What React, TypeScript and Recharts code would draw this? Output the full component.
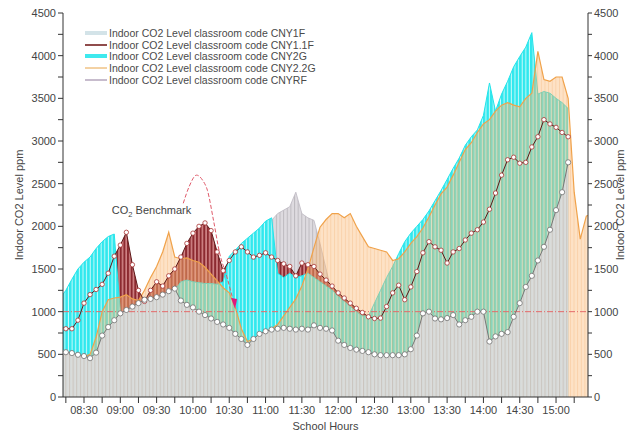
import { ComposedChart, Area, Line, XAxis, YAxis, ReferenceLine, ReferenceDot } from 'recharts'

// sampling times, every 5 minutes
const times = [
  '08:10', '08:15', '08:20', '08:25', '08:30', '08:35', '08:40', '08:45', '08:50', '08:55',
  '09:00', '09:05', '09:10', '09:15', '09:20', '09:25', '09:30', '09:35', '09:40', '09:45',
  '09:50', '09:55', '10:00', '10:05', '10:10', '10:15', '10:20', '10:25', '10:30', '10:35',
  '10:40', '10:45', '10:50', '10:55', '11:00', '11:05', '11:10', '11:15', '11:20', '11:25',
  '11:30', '11:35', '11:40', '11:45', '11:50', '11:55', '12:00', '12:05', '12:10', '12:15',
  '12:20', '12:25', '12:30', '12:35', '12:40', '12:45', '12:50', '12:55', '13:00', '13:05',
  '13:10', '13:15', '13:20', '13:25', '13:30', '13:35', '13:40', '13:45', '13:50', '13:55',
  '14:00', '14:05', '14:10', '14:15', '14:20', '14:25', '14:30', '14:35', '14:40', '14:45',
  '14:50', '14:55', '15:00', '15:05', '15:10', '15:15', '15:20', '15:25', '15:30',
]

const cny1f = [
  530, 525, 515, 495, 480, 455, 520, 720, 820, 900,
  980, 1020, 1060, 1100, 1140, 1150, 1170, 1200, 1240, 1270,
  1130, 1080, 1050, 1000, 960, 920, 880, 850, 810, 740,
  680, 610, 680, 740, 770, 790, 800, 810, 800, 790,
  800, 790, 840, 810, 800, 780, 660, 610, 575, 555,
  540, 525, 500, 490, 490, 490, 490, 500, 560, 720,
  980, 1000, 920, 910, 925, 960, 850, 900, 940, 1000,
  1000, 650, 710, 740, 760, 940, 1100, 1290, 1420, 1600,
  1760, 1960, 2190, 2400, 2750, null, null, null, null,
]

const cny11f = [
  820, 800, 800, 900, 1100, 1200, 1260, 1320, 1450, 1650,
  1780, 1930, 1550, 1250, 1120, 1250, 1350, 1300, 1420, 1500,
  1640, 1800, 1920, 2000, 2040, 1950, 1700, 1480, 1600, 1700,
  1760, 1700, 1640, 1660, 1690, 1640, 1600, 1560, 1530, 1420,
  1570, 1550, 1530, 1440, 1370, 1300, 1220, 1160, 1100, 1040,
  990, 940, 920, 925, 1060, 1220, 1310, 1140, 1290, 1470,
  1690, 1820, 1760, 1720, 1570, 1700, 1740, 1840, 1920, 1960,
  2050, 2200, 2390, 2600, 2780, 2810, 2740, 2750, 2930, 3050,
  3250, 3200, 3160, 3100, 3050, null, null, null, null,
]

const cny2g = [
  1150, 1250, 1380, 1500, 1580, 1640, 1740, 1820, 1880, 1910,
  1000, 1000, 1000, 1050, 1100, 1100, 1150, 1150, 1200, 1250,
  1350, 1370, 1350, 1340, 1330, 1330, 1320, 1350, 1650, 1720,
  1800, 1860, 1920, 1980, 2060, 2100, 1450, 1400, 1450, 1400,
  1420, 1450, 1400, 1350, 1300, 1250, 1180, 1120, 1060, 1000,
  950, 950, 1100, 1250, 1400, 1530, 1680, 1820, 1920, 2000,
  2080, 2180, 2300, 2420, 2550, 2680, 2800, 2950, 3050, 3130,
  3300, 3680, 3350, 3550, 3700, 3870, 3990, 4100, 4270, 3550,
  3580, 3560, 3500, 3450, 3380, null, null, null, null,
]

const cny22g = [
  480, 490, 500, 480, 470, 500, 700, 1000, 1140, 1160,
  1170, 1200, 1150, 1130, 1250, 1400, 1530, 1700, 1930, 1640,
  1620, 1630, 1600, 1580, 1520, 1440, 1360, 1280, 1220, 1050,
  800, 650, 680, 720, 760, 800, 850, 950, 1050, 1150,
  1300, 1500, 1750, 1990, 2080, 2150, 2150, 2100, 2150, 2000,
  1880, 1760, 1740, 1720, 1700, 1600, 1620, 1700, 1800, 1880,
  1980, 2110, 2250, 2380, 2460, 2600, 2750, 2900, 2980, 3100,
  3200, 3250, 3350, 3420, 3450, 3420, 3400, 3500, 3560, 4050,
  3720, 3700, 3750, 3750, 3500, 2400, 1850, 2120, 2150,
]

const cnyrf = [
  450, 450, 440, 430, 420, 420, 450, 600, 700, 800,
  900, 950, 1000, 1050, 1100, 1120, 1150, 1180, 1220, 1250,
  1200, 1150, 1100, 1050, 1000, 950, 900, 850, 800, 750,
  700, 650, 700, 750, 1400, 2070, 2150, 2190, 2230, 2400,
  2150, 2100, 2070, 1800, 1500, 1200, 1000, 800, 650, 550,
  500, 480, 460, 450, 450, 450, 450, 460, 500, 650,
  850, 900, 850, 850, 870, 900, 800, 850, 880, 920,
  920, 600, 650, 700, 720, 880, 1050, 1500, 2000, 2450,
  2600, 2650, 2700, 2700, 2650, null, null, null, null,
]

// CO2 benchmark pointer curve (minutes after 08:00, ppm)
const pointerMinutes = [112, 117, 123, 128, 132, 137, 142, 148, 154]
const pointerPpm = [2270, 2470, 2600, 2540, 2420, 2070, 1690, 1410, 1090]

const benchmark = 1000

const legendLabels = [
  'Indoor CO2 Level classroom code CNY1F',
  'Indoor CO2 Level classroom code CNY1.1F',
  'Indoor CO2 Level classroom code CNY2G',
  'Indoor CO2 Level classroom code CNY2.2G',
  'Indoor CO2 Level classroom code CNYRF',
]

const xTicks = [15, 30, 45, 60, 75, 90, 105, 120, 135, 150, 165, 180, 195, 210, 225, 240, 255, 270, 285, 300, 315, 330, 345, 360, 375, 390, 405, 420, 435]
const yTicks = [0, 250, 500, 750, 1000, 1250, 1500, 1750, 2000, 2250, 2500, 2750, 3000, 3250, 3500, 3750, 4000, 4250, 4500]

const toMinutes = (t: string) => {
  const [h, m] = t.split(':').map(Number)
  return (h - 8) * 60 + m
}

const data = times.map((t, i) => ({
  m: toMinutes(t),
  cny1f: cny1f[i],
  cny11f: cny11f[i],
  cny2g: cny2g[i],
  cny22g: cny22g[i],
  cnyrf: cnyrf[i],
}))

const pointerData = pointerMinutes.map((m, i) => ({ m, ppm: pointerPpm[i] }))

const pad = (n: number) => String(n).padStart(2, '0')
const fmtTime = (m: number) => (m % 30 === 0 ? `${pad(8 + Math.floor(m / 60))}:${pad(m % 60)}` : '')
const fmtPpm = (v: number) => (v % 500 === 0 ? String(v) : '')

const FONT = '"Liberation Sans", Arial, sans-serif'
const STRIPE = 3.63
const X_DOMAIN: [number, number] = [12.65, 446.4]

const legendStyles = [
  { color: '#d3e3e8', width: 4 },
  { color: '#6b1010', width: 1.5 },
  { color: '#3ee9ee', width: 4 },
  { color: '#e8a448', width: 1 },
  { color: '#b4a6bc', width: 1.5 },
]

function ChartLegend() {
  return (
    <div style={{ position: 'absolute', left: 84, top: 27, fontFamily: FONT, fontSize: 10.5, color: '#4a4a4a' }}>
      {legendLabels.map((label, i) => (
        <div key={label} style={{ display: 'flex', alignItems: 'center', height: 11.7, whiteSpace: 'nowrap' }}>
          <svg width={24} height={8} style={{ marginRight: 1 }}>
            <line x1={1} y1={4} x2={23} y2={4} stroke={legendStyles[i].color} strokeWidth={legendStyles[i].width} />
          </svg>
          <span>{label}</span>
        </div>
      ))}
    </div>
  )
}

function BenchmarkLabel(props: any) {
  const { x, y } = props.viewBox
  return (
    <text x={x} y={y} fontFamily={FONT} fontSize={11} fill="#444">
      <tspan>CO</tspan>
      <tspan dy={3} fontSize={7.5}>2</tspan>
      <tspan dy={-3}> Benchmark</tspan>
    </text>
  )
}

const whiteDot = (stroke: string, r: number) => (props: any) => {
  const { cx, cy, index } = props
  if (cx == null || cy == null || props.value == null) return <g key={`d${index}`} />
  return <circle key={`d${index}`} cx={cx} cy={cy} r={r} fill="#fff" stroke={stroke} strokeWidth={0.8} />
}

const ArrowHead = (props: any) => {
  const { cx, cy, index } = props
  if (index !== pointerData.length - 1) return <g key={`a${index}`} />
  return <path key={`a${index}`} d={`M${cx - 3},${cy - 6} L${cx + 3},${cy - 5} L${cx + 1},${cy + 5} Z`} fill="#e0197d" />
}

export default function App() {
  return (
    <div style={{ position: 'absolute', left: 0, top: 0, width: 633, height: 432, background: '#fff' }}>
      <ComposedChart
        width={633}
        height={432}
        data={data}
        margin={{ top: 13, right: 0, bottom: 0, left: 0 }}
        style={{ fontFamily: FONT }}
      >
        <defs>
          <pattern id="rfStripes" width={STRIPE} height={10} patternUnits="userSpaceOnUse">
            <rect width={STRIPE} height={10} fill="#dedbe0" />
            <rect width={1} height={10} fill="#bdbabf" />
          </pattern>
          <pattern id="redStripes" width={STRIPE} height={10} patternUnits="userSpaceOnUse">
            <rect width={STRIPE} height={10} fill="#d08486" />
            <rect width={2} height={10} fill="#8c2a30" />
          </pattern>
          <pattern id="cyanStripes" width={STRIPE} height={10} patternUnits="userSpaceOnUse">
            <rect width={STRIPE} height={10} fill="#c8fafa" />
            <rect width={2.6} height={10} fill="#30e8ee" />
          </pattern>
          <pattern id="orangeStripes" width={STRIPE} height={10} patternUnits="userSpaceOnUse">
            <rect width={STRIPE} height={10} fill="rgba(250,185,120,0.42)" />
            <rect width={1} height={10} fill="rgba(238,150,70,0.22)" />
          </pattern>
          <pattern id="grayStripes" width={STRIPE} height={10} patternUnits="userSpaceOnUse">
            <rect width={STRIPE} height={10} fill="#dcdcdc" />
            <rect width={1} height={10} fill="#ccc4bf" />
          </pattern>
        </defs>

        <XAxis
          dataKey="m"
          type="number"
          domain={X_DOMAIN}
          allowDataOverflow
          ticks={xTicks}
          tickFormatter={fmtTime}
          interval={0}
          height={35}
          tickSize={6}
          tickMargin={3}
          tick={{ fontSize: 11, fill: '#444' }}
          stroke="#333"
          label={{ value: 'School Hours', position: 'insideBottom', offset: 2, fontSize: 11, fill: '#444' }}
        />
        <XAxis
          xAxisId="top"
          orientation="top"
          type="number"
          dataKey="m"
          domain={X_DOMAIN}
          allowDataOverflow
          ticks={xTicks}
          interval={0}
          height={0}
          mirror
          tick={false}
          tickSize={5}
          stroke="#333"
        />
        <YAxis
          domain={[0, 4500]}
          ticks={yTicks}
          interval={0}
          tickFormatter={fmtPpm}
          width={63}
          tickSize={5}
          tickMargin={2}
          tick={{ fontSize: 11, fill: '#444' }}
          stroke="#333"
          label={{ value: 'Indoor CO2 Level ppm', angle: -90, position: 'center', dx: -12, fontSize: 11, fill: '#444' }}
        />
        <YAxis
          yAxisId="right"
          orientation="right"
          domain={[0, 4500]}
          ticks={yTicks}
          interval={0}
          tickFormatter={fmtPpm}
          width={45}
          tickSize={4}
          tickMargin={2}
          tick={{ fontSize: 11, fill: '#444' }}
          stroke="#333"
          label={{ value: 'Indoor CO2 Level ppm', angle: -90, position: 'center', dx: 10, fontSize: 11, fill: '#444' }}
        />

        <Area type="linear" dataKey="cnyrf" name={legendLabels[4]} fill="url(#rfStripes)" fillOpacity={1} stroke="#bdb8c2" strokeWidth={0.8} isAnimationActive={false} dot={false} activeDot={false} />
        <Area type="linear" dataKey="cny11f" name={legendLabels[1]} fill="url(#redStripes)" fillOpacity={1} stroke="none" isAnimationActive={false} dot={false} activeDot={false} />
        <Area type="linear" dataKey="cny2g" name={legendLabels[2]} fill="url(#cyanStripes)" fillOpacity={1} stroke="#22e4ea" strokeWidth={1} isAnimationActive={false} dot={false} activeDot={false} />
        <Area type="linear" dataKey="cny22g" name={legendLabels[3]} fill="url(#orangeStripes)" fillOpacity={1} stroke="#f0a24a" strokeWidth={1.2} isAnimationActive={false} dot={false} activeDot={false} />
        <Area type="linear" dataKey="cny1f" name={legendLabels[0]} fill="url(#grayStripes)" fillOpacity={0.95} stroke="none" isAnimationActive={false} dot={false} activeDot={false} />

        <ReferenceLine y={benchmark} stroke="#e46a6a" strokeDasharray="6 2 1 2" strokeWidth={1} />

        <Line type="linear" dataKey="cny11f" stroke="#5e1818" strokeWidth={1} dot={whiteDot('#a83232', 2.2)} activeDot={false} isAnimationActive={false} />
        {/* same scales as the main axes; keeps the mirrored top and right axes populated */}
        <Line type="linear" dataKey="cny1f" xAxisId="top" yAxisId="right" stroke="#777" strokeWidth={1} dot={whiteDot('#6e6e6e', 2.6)} activeDot={false} isAnimationActive={false} />

        <Line
          data={pointerData}
          dataKey="ppm"
          type="monotone"
          stroke="#e05a6a"
          strokeWidth={1}
          strokeDasharray="4 2"
          dot={ArrowHead}
          activeDot={false}
          isAnimationActive={false}
        />
        <ReferenceDot x={53} y={2145} r={0} fill="none" stroke="none" label={BenchmarkLabel} />
      </ComposedChart>
      <ChartLegend />
    </div>
  )
}
